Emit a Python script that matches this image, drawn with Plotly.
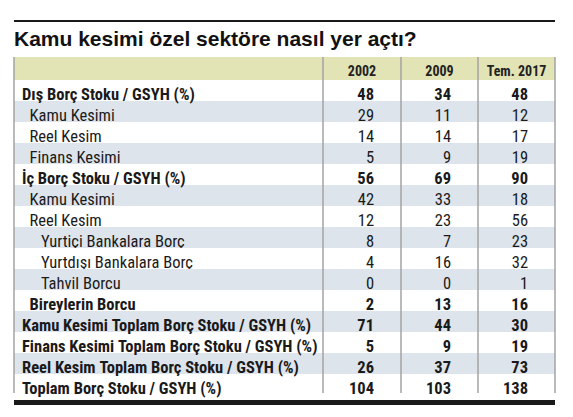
import plotly.graph_objects as go

# --- dados da tabela ---
title = "Kamu kesimi özel sektöre nasıl yer açtı?"
years = ["2002", "2009", "Tem. 2017"]
labels = [
    "Dış Borç Stoku / GSYH (%)", "Kamu Kesimi", "Reel Kesim", "Finans Kesimi",
    "İç Borç Stoku / GSYH (%)", "Kamu Kesimi", "Reel Kesim",
    "Yurtiçi Bankalara Borç", "Yurtdışı Bankalara Borç", "Tahvil Borcu",
    "Bireylerin Borcu",
    "Kamu Kesimi Toplam Borç Stoku / GSYH (%)",
    "Finans Kesimi Toplam Borç Stoku / GSYH (%)",
    "Reel Kesim Toplam Borç Stoku / GSYH (%)",
    "Toplam Borç Stoku / GSYH (%)",
]
levels = [0, 1, 1, 1, 0, 1, 1, 2, 2, 2, 1, 0, 0, 0, 0]
bold = [1, 0, 0, 0, 1, 0, 0, 0, 0, 0, 1, 1, 1, 1, 1]
v2002 = [48, 29, 14, 5, 56, 42, 12, 8, 4, 0, 2, 71, 5, 26, 104]
v2009 = [34, 11, 14, 9, 69, 33, 23, 7, 16, 0, 13, 44, 9, 37, 103]
v2017 = [48, 12, 17, 19, 90, 18, 56, 23, 32, 1, 16, 30, 19, 73, 138]

# a página html tem 8px de margem no body: a figura é menor e tudo é deslocado
OFF = 8
W, H = 573 - OFF, 417 - OFF
FONT = "Roboto Condensed, Liberation Sans Narrow, DejaVu Sans Condensed, sans-serif"
TITLE_FONT = "Liberation Sans, Arial, sans-serif"
left_px, right_px = 14, 555
top_px, bottom_px = 57, 398
col_px = [309, 78, 77, 77]
HEAD_H, ROW_H = 23, 21
CELL_SIZE = 16.5
CLEAR = "rgba(0,0,0,0)"

NB = "\u00a0"


def px_x(x):
    return (x - OFF) / W


def px_y(y):
    return 1 - (y - OFF) / H


def txt(t, pre="", post=""):
    # espaços normais viram nbsp; sem tags html (o plotly aumentaria a linha)
    return pre + str(t).replace(" ", NB) + post


label_cells = [txt(t, pre=NB * (2 * l + l // 2)) for t, l in zip(labels, levels)]
num_cols = [[txt(v, post=NB * 5) for v in col] for col in (v2002, v2009, v2017)]
all_cols = [label_cells] + num_cols

# duas camadas: texto normal embaixo, texto em negrito numa tabela transparente por cima
normal_cols = [[c if not b else "" for c, b in zip(col, bold)] for col in all_cols]
bold_cols = [[c if b else "" for c, b in zip(col, bold)] for col in all_cols]

row_fill = ["white" if i % 2 == 0 else "#dde4ec" for i in range(len(labels))]
domain = dict(x=[px_x(left_px), px_x(right_px)], y=[px_y(bottom_px), px_y(top_px)])
aligns = ["left", "right", "right", "right"]

fig = go.Figure()
fig.add_trace(go.Table(
    domain=domain,
    columnwidth=col_px,
    header=dict(
        values=[""] + [txt(y) for y in years],
        fill_color="#e2e4b5",
        line=dict(width=0, color="#e2e4b5"),
        align=["left", "center", "center", "center"],
        font=dict(family=FONT, size=14, color="#222222", weight="bold"),
        height=HEAD_H,
    ),
    cells=dict(
        values=normal_cols,
        fill_color=[row_fill] * 4,
        line=dict(width=0, color="white"),
        align=aligns,
        font=dict(family=FONT, size=CELL_SIZE, color="#1a1a1a"),
        height=ROW_H,
    ),
))
fig.add_trace(go.Table(
    domain=domain,
    columnwidth=col_px,
    header=dict(values=["", "", "", ""], fill_color=CLEAR,
                line=dict(width=0, color=CLEAR), height=HEAD_H),
    cells=dict(
        values=bold_cols,
        fill_color=CLEAR,
        line=dict(width=0, color=CLEAR),
        align=aligns,
        font=dict(family=FONT, size=CELL_SIZE, color="#1a1a1a", weight="bold"),
        height=ROW_H,
    ),
))

# linhas verticais da tabela
table_bottom = top_px + HEAD_H + ROW_H * len(labels)
xs = [left_px]
for w in col_px:
    xs.append(xs[-1] + w * (right_px - left_px) / sum(col_px))
for x in xs:
    fig.add_shape(type="line", xref="paper", yref="paper",
                  x0=px_x(x), x1=px_x(x), y0=px_y(top_px), y1=px_y(table_bottom - 2),
                  line=dict(color="#a3a3a3", width=1.5))

# filetes superior e inferior
fig.add_shape(type="line", xref="paper", yref="paper", x0=px_x(left_px), x1=px_x(right_px),
              y0=px_y(21), y1=px_y(21), line=dict(color="#1a1a1a", width=2))
fig.add_shape(type="rect", xref="paper", yref="paper", x0=px_x(left_px), x1=px_x(right_px),
              y0=px_y(405), y1=px_y(400), line=dict(width=0), fillcolor="#1a1a1a")

fig.add_annotation(text=f"<b>{title}</b>", xref="paper", yref="paper",
                   x=px_x(left_px - 2), y=px_y(38), xanchor="left", yanchor="middle",
                   showarrow=False, font=dict(family=TITLE_FONT, size=21, color="#111111"))

fig.update_layout(width=W, height=H, margin=dict(l=0, r=0, t=0, b=0),
                  paper_bgcolor="white", plot_bgcolor="white")

fig.write_html("out.html")
